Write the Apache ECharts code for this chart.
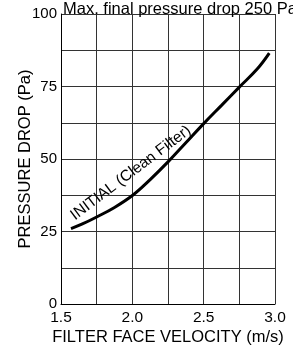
<!DOCTYPE html>
<html>
<head>
<meta charset="utf-8">
<script src="https://cdn.jsdelivr.net/npm/echarts@6/dist/echarts.min.js"></script>
<style>
  html, body { margin: 0; padding: 0; background: #fff; }
  #chart { width: 293px; height: 346px; }
</style>
</head>
<body>
<div id="chart"></div>
<script>
// filter face velocity (m/s) and initial pressure drop (Pa)
const velocity = [1.57, 1.65, 1.75, 1.875, 2.0, 2.125, 2.25, 2.375, 2.5, 2.625, 2.75, 2.875, 2.96]
const pressure = [26, 27.6, 30, 33.3, 37.4, 42.9, 49, 55.6, 62.2, 68.5, 74.8, 81, 86.5]
const xLabels = ['1.5', '2.0', '2.5', '3.0']
const yLabels = ['0', '25', '50', '75', '100']

const font = 'Liberation Sans, Arial, Helvetica, sans-serif'

const chart = echarts.init(document.getElementById('chart'))
chart.setOption({
    animation: false,
    title: {
        text: 'Max. final pressure drop 250 Pa',
        left: 58,
        top: -4,
        textStyle: { fontFamily: font, fontSize: 16.5, fontWeight: 'normal', color: '#000' }
    },
    grid: { left: 61, right: 18, top: 14, bottom: 42, outerBoundsMode: 'none' },
    xAxis: {
        type: 'value',
        min: 1.5,
        max: 3.0,
        interval: 0.25,
        name: 'FILTER FACE VELOCITY (m/s)',
        nameLocation: 'middle',
        nameGap: 25,
        nameMoveOverlap: false,
        nameTextStyle: { fontFamily: font, fontSize: 16.5, color: '#000', verticalAlign: 'top' },
        axisLine: { show: true, lineStyle: { color: '#000', width: 1 } },
        axisTick: { show: false },
        axisLabel: {
            margin: 6,
            fontFamily: font, fontSize: 15.5, color: '#000',
            formatter: v => Math.abs(v * 2 - Math.round(v * 2)) < 1e-6 && xLabels.includes(v.toFixed(1)) ? v.toFixed(1) : ''
        },
        splitLine: { show: true, lineStyle: { color: '#333', width: 1 } }
    },
    yAxis: {
        type: 'value',
        min: 0,
        max: 100,
        interval: 12.5,
        name: 'PRESSURE DROP (Pa)',
        nameLocation: 'middle',
        nameGap: 27,
        nameMoveOverlap: false,
        nameTextStyle: { fontFamily: font, fontSize: 16.5, color: '#000' },
        axisLine: { show: true, lineStyle: { color: '#000', width: 1 } },
        axisTick: { show: false },
        axisLabel: {
            margin: 4,
            fontFamily: font, fontSize: 15, color: '#000',
            formatter: v => yLabels.includes(String(v)) ? String(v) : ''
        },
        splitLine: { show: true, lineStyle: { color: '#333', width: 1 } }
    },
    series: [
        {
            type: 'line',
            data: velocity.map((v, i) => [v, pressure[i]]),
            smooth: 0.4,
            symbol: 'none',
            lineStyle: { color: '#000', width: 3 },
            markPoint: {
                symbol: 'circle',
                symbolSize: 0,
                data: [{ coord: [1.99, 45.2] }],
                label: {
                    show: true,
                    formatter: 'INITIAL (Clean Filter)',
                    position: 'inside',
                    rotate: 37,
                    fontFamily: font,
                    fontSize: 15.5,
                    color: '#000'
                }
            }
        }
    ]
})
</script>
</body>
</html>
